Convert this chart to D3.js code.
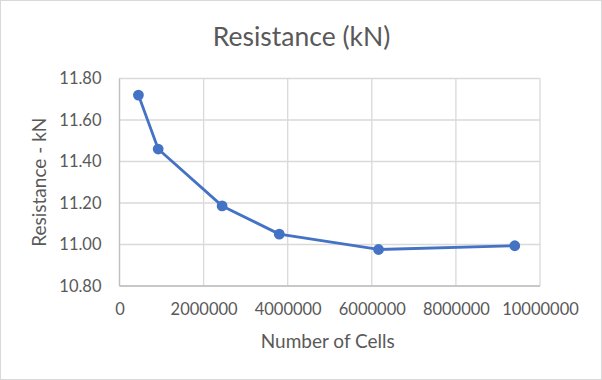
<!DOCTYPE html>
<html><head><meta charset="utf-8">
<script src="https://cdn.jsdelivr.net/npm/d3@7"></script>
<style>body{margin:0;background:#fff;}svg{display:block;font-family:Lato,"Open Sans",sans-serif;}</style>
</head><body>
<svg id="c" width="602" height="380"></svg>
<script>
const cells = [450000, 920000, 2440000, 3800000, 6160000, 9400000];
const resistance = [11.72, 11.46, 11.186, 11.05, 10.976, 10.994];
const xTicks = [0, 2000000, 4000000, 6000000, 8000000, 10000000];
const yTicks = [10.8, 11.0, 11.2, 11.4, 11.6, 11.8];
const title = "Resistance (kN)";
const xTitle = "Number of Cells";
const yTitle = "Resistance - kN";

const svg = d3.select("#c");
svg.append("rect").attr("x",0.5).attr("y",0.5).attr("width",601).attr("height",379)
  .attr("fill","#fff").attr("stroke","#d9d9d9");
const L=119.5, R=540, T=78.5, B=286;
const x = d3.scaleLinear().domain([0,10000000]).range([L,R]);
const y = d3.scaleLinear().domain([10.8,11.8]).range([B,T]);
const g = svg.append("g");
g.selectAll(".vg").data(xTicks).join("line").attr("x1",d=>x(d)).attr("x2",d=>x(d))
 .attr("y1",T).attr("y2",B).attr("stroke","#d9d9d9").attr("stroke-width",1.3);
g.selectAll(".hg").data(yTicks).join("line").attr("y1",d=>y(d)).attr("y2",d=>y(d))
 .attr("x1",L).attr("x2",R).attr("stroke","#d9d9d9").attr("stroke-width",1.3);
g.append("line").attr("x1",L).attr("x2",L).attr("y1",T).attr("y2",B).attr("stroke","#bfbfbf").attr("stroke-width",1.3);
g.append("line").attr("x1",L).attr("x2",R).attr("y1",B).attr("y2",B).attr("stroke","#bfbfbf").attr("stroke-width",1.3);

const xAxis = d3.axisBottom(x).tickValues(xTicks).tickFormat(d3.format("d")).tickSize(0).tickPadding(17);
const xa = svg.append("g").attr("transform",`translate(0,${B})`).call(xAxis);
const yAxis = d3.axisLeft(y).tickValues(yTicks).tickFormat(d3.format(".2f")).tickSize(0).tickPadding(18);
const ya = svg.append("g").attr("transform",`translate(${L},0)`).call(yAxis);
[xa,ya].forEach(a=>{a.select(".domain").remove();
  a.selectAll("text").attr("fill","#595959").style("font-size","16.5px").style("font-family","Lato,sans-serif");});

const data = cells.map((c,i)=>({c, r: resistance[i]}));
svg.append("path").datum(data).attr("fill","none").attr("stroke","#4472C4").attr("stroke-width",2.8)
 .attr("stroke-linejoin","round")
 .attr("d", d3.line().x(d=>x(d.c)).y(d=>y(d.r)));
svg.selectAll(".pt").data(data).join("circle").attr("cx",d=>x(d.c)).attr("cy",d=>y(d.r))
 .attr("r",5.4).attr("fill","#4472C4");

svg.append("text").attr("x",301.5).attr("y",46).attr("text-anchor","middle")
 .attr("fill","#595959").style("font-size","26.5px").text(title);
svg.append("text").attr("x",(L+R)/2 - 2).attr("y",348).attr("text-anchor","middle")
 .attr("fill","#595959").style("font-size","19px").text(xTitle);
svg.append("text").attr("transform",`translate(46,${(T+B)/2}) rotate(-90)`).attr("text-anchor","middle")
 .attr("fill","#595959").style("font-size","19px").text(yTitle);
</script>
</body></html>
